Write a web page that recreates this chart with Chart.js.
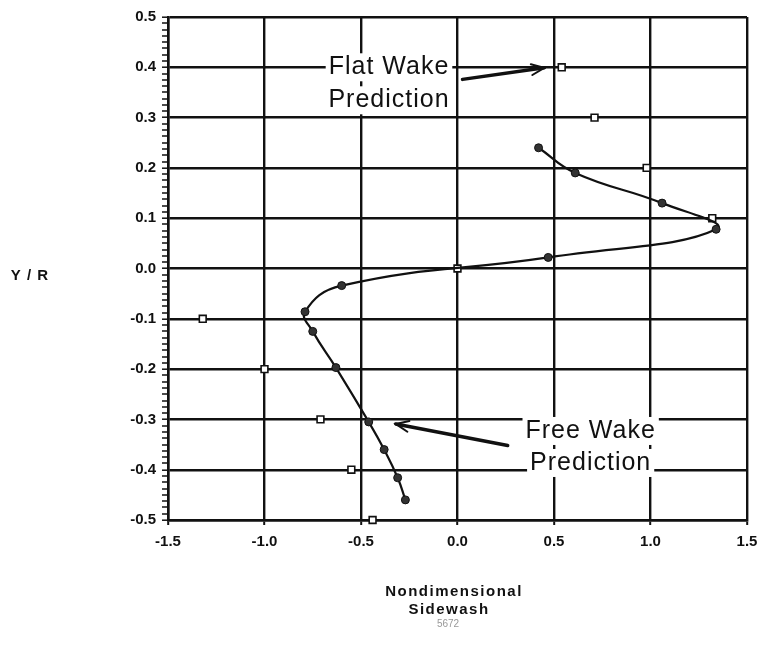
<!DOCTYPE html>
<html>
<head>
<meta charset="utf-8">
<script src="https://cdn.jsdelivr.net/npm/chart.js@4/dist/chart.umd.min.js"></script>
<style>
html,body{margin:0;padding:0;background:#fff;}
#wrap{width:761px;height:648px;}
</style>
</head>
<body>
<div id="wrap"><canvas id="c" width="761" height="648"></canvas></div>
<script>
// ---- data ----
const flatWakeX = [0.54, 0.71, 0.98, 1.32, 0.00, -1.32, -1.00, -0.71, -0.55, -0.44];
const flatWakeY = [0.40, 0.30, 0.20, 0.10, 0.00, -0.10, -0.20, -0.30, -0.40, -0.50];
const freeWakeX = [0.42, 0.61, 1.06, 1.34, 0.47, -0.60, -0.79, -0.75, -0.63, -0.46, -0.38, -0.31, -0.27];
const freeWakeY = [0.24, 0.19, 0.13, 0.078, 0.022, -0.034, -0.086, -0.125, -0.197, -0.305, -0.36, -0.416, -0.46];
const xRange = [-1.5, 1.5];
const yRange = [-0.5, 0.5];
const xTitleLines = ['Nondimensional', 'Sidewash'];
const yTitle = 'Y / R';
const figNote = '5672';

const toPts = (xs, ys) => xs.map((x, i) => ({x: x, y: ys[i]}));
const isMajor = v => Math.abs(Math.round(v * 10) - v * 10) < 1e-6;

const annotations = [
  {type: 'text', lines: ['Flat Wake', 'Prediction'], x: -0.355, y: 0.4, dy: 33},
  {type: 'arrow', from: [0.026, 0.376], to: [0.45, 0.399]},
  {type: 'text', lines: ['Free Wake', 'Prediction'], x: 0.69, y: -0.323, dy: 32},
  {type: 'arrow', from: [0.26, -0.352], to: [-0.32, -0.309]}
];

const annotPlugin = {
  id: 'annot',
  afterDatasetsDraw(chart) {
    const ctx = chart.ctx, xs = chart.scales.x, ys = chart.scales.y;
    ctx.save();
    annotations.forEach(a => {
      if (a.type === 'text') {
        ctx.font = '25px "Liberation Sans", Arial, sans-serif';
        ctx.letterSpacing = '1px';
        ctx.textAlign = 'center';
        ctx.textBaseline = 'middle';
        const cx = xs.getPixelForValue(a.x), cy = ys.getPixelForValue(a.y);
        a.lines.forEach((t, i) => {
          const w = ctx.measureText(t).width;
          ctx.fillStyle = '#fff';
          ctx.fillRect(cx - w / 2 - 3, cy + i * a.dy - 14, w + 6, 28);
          ctx.fillStyle = '#111';
          ctx.fillText(t, cx, cy + i * a.dy);
        });
      } else {
        const x1 = xs.getPixelForValue(a.from[0]), y1 = ys.getPixelForValue(a.from[1]);
        const x2 = xs.getPixelForValue(a.to[0]), y2 = ys.getPixelForValue(a.to[1]);
        const ang = Math.atan2(y2 - y1, x2 - x1);
        ctx.strokeStyle = '#111';
        ctx.lineWidth = 3.5;
        ctx.lineCap = 'round';
        ctx.beginPath(); ctx.moveTo(x1, y1); ctx.lineTo(x2, y2); ctx.stroke();
        ctx.lineWidth = 2;
        const L = 14, sp = 0.4;
        ctx.beginPath();
        ctx.moveTo(x2 - L * Math.cos(ang - sp), y2 - L * Math.sin(ang - sp));
        ctx.lineTo(x2, y2);
        ctx.lineTo(x2 - L * Math.cos(ang + sp), y2 - L * Math.sin(ang + sp));
        ctx.stroke();
      }
    });
    ctx.restore();
  },
  afterDraw(chart) {
    const ctx = chart.ctx;
    ctx.save();
    ctx.fillStyle = '#111';
    ctx.textAlign = 'center';
    ctx.textBaseline = 'middle';
    ctx.font = 'bold 15px "Liberation Sans", Arial, sans-serif';
    ctx.letterSpacing = '1px';
    ctx.fillText(yTitle, 30, 276);
    ctx.font = 'bold 15px "Liberation Sans", Arial, sans-serif';
    ctx.letterSpacing = '1.5px';
    ctx.fillText(xTitleLines[0], 454, 592);
    ctx.fillText(xTitleLines[1], 449, 610);
    ctx.font = '10px "Liberation Sans", Arial, sans-serif';
    ctx.fillStyle = '#999';
    ctx.letterSpacing = '0px';
    ctx.fillText(figNote, 448, 624);
    ctx.restore();
  }
};

new Chart(document.getElementById('c'), {
  type: 'scatter',
  data: {
    datasets: [
      {
        label: 'Free Wake Prediction',
        data: toPts(freeWakeX, freeWakeY),
        showLine: true,
        tension: 0.45,
        borderColor: '#111',
        borderWidth: 2.2,
        pointRadius: 4,
        pointBackgroundColor: '#333',
        pointBorderColor: '#111',
        pointBorderWidth: 1,
        clip: false
      },
      {
        label: 'Flat Wake Prediction',
        data: toPts(flatWakeX, flatWakeY),
        showLine: false,
        pointStyle: 'rect',
        pointRadius: 4.8,
        pointBackgroundColor: '#fff',
        pointBorderColor: '#111',
        pointBorderWidth: 1.6,
        clip: false
      }
    ]
  },
  options: {
    responsive: false,
    animation: false,
    devicePixelRatio: 1,
    layout: {padding: {top: 17, right: 14, left: 0, bottom: 0}},
    plugins: {legend: {display: false}, tooltip: {enabled: false}},
    scales: {
      x: {
        type: 'linear',
        min: xRange[0], max: xRange[1],
        afterFit: s => { s.height = 128; s.paddingLeft = 0; s.paddingRight = 0; },
        border: {display: true, color: '#111', width: 2.5},
        grid: {color: '#111', lineWidth: 2.4, tickColor: '#111', tickLength: 5, tickWidth: 2},
        ticks: {
          stepSize: 0.5,
          color: '#111',
          padding: 8,
          font: {family: '"Liberation Sans", Arial, sans-serif', size: 15, weight: 'bold'},
          callback: v => Number(v).toFixed(1)
        }
      },
      y: {
        type: 'linear',
        min: yRange[0], max: yRange[1],
        afterFit: s => { s.width = 168; s.paddingTop = 0; s.paddingBottom = 0; },
        border: {display: true, color: '#111', width: 2.5},
        grid: {
          color: c => isMajor(c.tick.value) ? '#111' : 'rgba(0,0,0,0)',
          lineWidth: c => isMajor(c.tick.value) ? 2.4 : 0,
          tickColor: '#111',
          tickLength: 6,
          tickWidth: 1.5
        },
        ticks: {
          stepSize: 0.0125,
          autoSkip: false,
          color: '#111',
          padding: 6,
          font: {family: '"Liberation Sans", Arial, sans-serif', size: 15, weight: 'bold'},
          callback: v => isMajor(v) ? (Math.abs(v) < 1e-9 ? '0.0' : Number(v).toFixed(1)) : ''
        }
      }
    }
  },
  plugins: [annotPlugin]
});
</script>
</body>
</html>
